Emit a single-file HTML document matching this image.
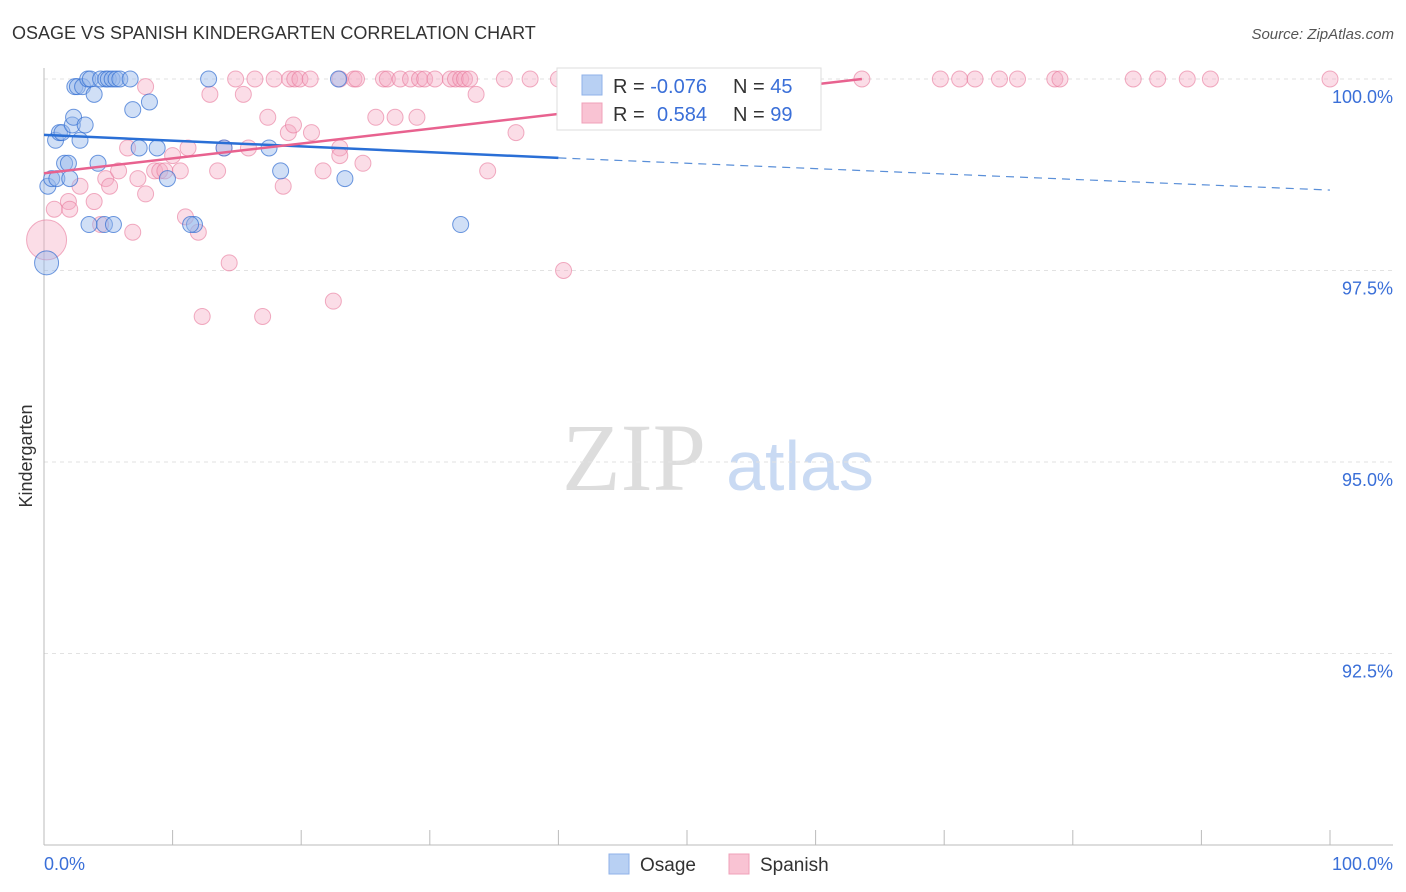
<!DOCTYPE html>
<html><head><meta charset="utf-8"><style>
body{margin:0;background:#fff;font-family:"Liberation Sans",sans-serif;}
svg{display:block}
</style></head><body>
<svg id="chart" width="1406" height="892">
<text x="12" y="39" font-size="18" fill="#333">OSAGE VS SPANISH KINDERGARTEN CORRELATION CHART</text>
<text x="1394" y="39" font-size="15" fill="#555" font-style="italic" text-anchor="end">Source: ZipAtlas.com</text>
<text x="32" y="456" font-size="18" fill="#333" transform="rotate(-90 32 456)" text-anchor="middle">Kindergarten</text>
<text x="634" y="490" font-size="96" fill="#ddd" font-family="Liberation Serif,serif" text-anchor="middle">ZIP</text>
<text x="800" y="490" font-size="70" fill="#c9daf3" text-anchor="middle">atlas</text>
<g id="grid"></g><g id="pts"></g><g id="lines"></g>
<g>
<rect x="557" y="68" width="264" height="62" fill="#fff" stroke="#ddd"/>
<rect x="582" y="75" width="20" height="20" fill="#b8d0f3" stroke="#8fb2e8"/>
<rect x="582" y="103" width="20" height="20" fill="#f9c3d3" stroke="#f0a0b8"/>
<text x="613" y="93" font-size="20" fill="#333">R = <tspan fill="#3a6fd8">-0.076</tspan></text>
<text x="733" y="93" font-size="20" fill="#333">N = <tspan fill="#3a6fd8">45</tspan></text>
<text x="613" y="121" font-size="20" fill="#333">R = <tspan fill="#3a6fd8" x="657">0.584</tspan></text>
<text x="733" y="121" font-size="20" fill="#333">N = <tspan fill="#3a6fd8">99</tspan></text>
</g>
<g>
<rect x="609" y="854" width="20" height="20" fill="#b8d0f3" stroke="#8fb2e8"/>
<text x="640" y="871" font-size="19" fill="#333">Osage</text>
<rect x="729" y="854" width="20" height="20" fill="#f9c3d3" stroke="#f0a0b8"/>
<text x="760" y="871" font-size="19" fill="#333">Spanish</text>
</g>
<text x="44" y="870" font-size="18" fill="#3a6fd8">0.0%</text>
<text x="1393" y="870" font-size="18" fill="#3a6fd8" text-anchor="end">100.0%</text>
</svg>
<script>
const yTicks=[100,97.5,95,92.5];
const yTickLabels=["100.0%","97.5%","95.0%","92.5%"];
const osageX=[0.2,0.3,0.6,0.9,1,1.2,1.4,1.6,1.9,2,2.2,2.3,2.4,2.6,2.8,3,3.2,3.4,3.6,3.9,4.2,4.4,4.8,5,5.3,5.6,5.9,6.7,6.9,8.2,8.8,7.4,9.6,11.7,11.4,4.7,5.4,3.5,12.8,14,17.5,18.4,22.9,23.4,32.4];
const osageY=[97.6,98.6,98.7,99.2,98.7,99.3,99.3,98.9,98.9,98.7,99.4,99.5,99.9,99.9,99.2,99.9,99.4,100,100,99.8,98.9,100,100,100,100,100,100,100,99.6,99.7,99.1,99.1,98.7,98.1,98.1,98.1,98.1,98.1,100,99.1,99.1,98.8,100,98.7,98.1];
const osageR=[12,8,8,8,8,8,8,8,8,8,8,8,8,8,8,8,8,8,8,8,8,8,8,8,8,8,8,8,8,8,8,8,8,8,8,8,8,8,8,8,8,8,8,8,8];
const spanishX=[14.9,16.4,17.9,19.1,19.5,19.9,20.7,23,24.1,24.3,26.4,26.7,27.7,28.5,29.2,29.6,30.4,31.6,32,32.4,32.7,33.1,35.8,37.8,40,41.9,44.8,46.4,47.9,50.2,51.4,52.6,55.7,56.1,56.8,63.6,69.7,71.2,72.4,74.3,75.7,78.6,79,84.7,86.6,88.9,90.7,100,
0.2,0.8,1.9,2.0,2.8,3.9,4.4,4.8,5.1,5.8,6.5,6.9,7.3,7.9,8.6,9,9.4,10,10.6,11,11.2,12,12.9,13.5,14,14.4,15.5,15.9,12.3,17,17.4,18.6,19,20.8,21.7,22.5,23,24.8,25.8,27.3,29,34.5,33.6,40.4,36.7,47.9,51.8,23,19.4,7.9];
const spanishY=[100,100,100,100,100,100,100,100,100,100,100,100,100,100,100,100,100,100,100,100,100,100,100,100,100,100,100,100,100,100,100,100,100,100,100,100,100,100,100,100,100,100,100,100,100,100,100,100,
97.9,98.3,98.4,98.3,98.6,98.4,98.1,98.7,98.6,98.8,99.1,98.0,98.7,98.5,98.8,98.8,98.8,99.0,98.8,98.2,99.1,98.0,99.8,98.8,99.1,97.6,99.8,99.1,96.9,96.9,99.5,98.6,99.3,99.3,98.8,97.1,99.1,98.9,99.5,99.5,99.5,98.8,99.8,97.5,99.3,99.9,99.7,99.0,99.4,99.9,99.9,99.1];
const spanishR=[8,8,8,8,8,8,8,8,8,8,8,8,8,8,8,8,8,8,8,8,8,8,8,8,8,8,8,8,8,8,8,8,8,8,8,8,8,8,8,8,8,8,8,8,8,8,8,8,20];
const osageTrend=[[0,99.27],[40,98.97],[100,98.55]];
const spanishTrend=[[0,98.77],[63.6,100]];
const X=v=>44+v*12.86, Y=v=>79+(100-v)*76.6;
const NS="http://www.w3.org/2000/svg";
function mk(t,a,p){const e=document.createElementNS(NS,t);for(const k in a)e.setAttribute(k,a[k]);p.appendChild(e);return e;}
const grid=document.getElementById('grid');
yTicks.forEach((t,i)=>{
 const l=mk('line',{x1:44,x2:1393,y1:Y(t),y2:Y(t),stroke:'#e2e2e2','stroke-dasharray':'4,4'},grid);
 
 
 const tx=mk('text',{x:1393,y:Y(t)+24,'font-size':18,fill:'#3a6fd8','text-anchor':'end'},grid);
 tx.textContent=yTickLabels[i];
 
 
});
const ax=mk('line',{x1:44,x2:1393,y1:845,y2:845,stroke:'#bbb'},grid);


const ay=mk('line',{x1:44,x2:44,y1:68,y2:845,stroke:'#bbb'},grid);


for(let i=0;i<=10;i++){const t=mk('line',{x1:X(i*10),x2:X(i*10),y1:830,y2:845,stroke:'#bbb'},grid);
 
 }
const pts=document.getElementById('pts');
spanishX.forEach((x,i)=>{const c=mk('circle',{cx:X(x),cy:Y(spanishY[i]),r:spanishR[i]||8,fill:'rgba(246,170,195,0.4)',stroke:'rgba(232,120,155,0.6)'},pts);
 
 });
osageX.forEach((x,i)=>{const c=mk('circle',{cx:X(x),cy:Y(osageY[i]),r:osageR[i]||8,fill:'rgba(150,185,235,0.45)',stroke:'rgba(50,110,210,0.7)'},pts);
 
 });
const lines=document.getElementById('lines');
const o1=mk('line',{x1:X(osageTrend[0][0]),y1:Y(osageTrend[0][1]),x2:X(osageTrend[1][0]),y2:Y(osageTrend[1][1]),stroke:'#2a6fd6','stroke-width':2.5},lines);


const o2=mk('line',{x1:X(osageTrend[1][0]),y1:Y(osageTrend[1][1]),x2:X(osageTrend[2][0]),y2:Y(osageTrend[2][1]),stroke:'#5a8fd8','stroke-width':1.2,'stroke-dasharray':'8,6'},lines);


const s1=mk('line',{x1:X(spanishTrend[0][0]),y1:Y(spanishTrend[0][1]),x2:X(spanishTrend[1][0]),y2:Y(spanishTrend[1][1]),stroke:'#e8628f','stroke-width':2.5},lines);


</script>
</body></html>
